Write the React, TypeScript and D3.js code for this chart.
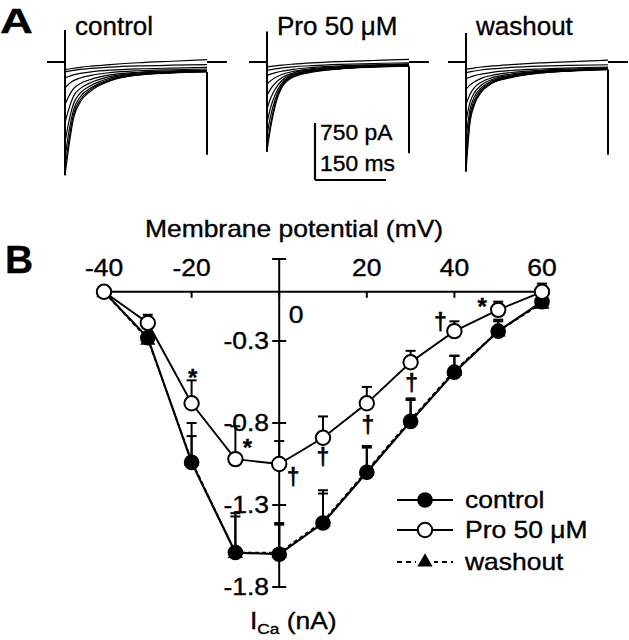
import React from "react";
import * as d3 from "d3";

// ---- panel A: current sweeps (pA), sampled at sweepTimes (ms) ----
const sweepTimes = [0, 8, 18, 32, 55, 95, 155, 225, 300];

const controlSweeps = [
  [-1490, -1120, -740, -530, -380, -250, -172, -145, -130],
  [-1400, -1040, -690, -500, -360, -240, -168, -142, -128],
  [-1260, -930, -630, -460, -340, -228, -162, -138, -124],
  [-1060, -790, -550, -410, -310, -212, -155, -133, -120],
  [-800, -620, -450, -350, -270, -192, -145, -126, -114],
  [-560, -450, -350, -285, -228, -170, -135, -118, -106],
  [-340, -290, -245, -210, -175, -140, -115, -102, -92],
  [-210, -190, -170, -150, -130, -108, -90, -80, -72],
  [-130, -120, -110, -98, -85, -68, -52, -42, -35],
  [-100, -92, -82, -70, -55, -35, -10, 10, 30],
];

const proSweeps = [
  [-1180, -850, -560, -330, -200, -135, -90, -68, -55],
  [-1100, -800, -530, -315, -190, -128, -86, -64, -52],
  [-960, -700, -480, -295, -182, -122, -82, -61, -48],
  [-800, -590, -420, -270, -172, -116, -78, -58, -45],
  [-620, -470, -350, -240, -160, -108, -74, -54, -41],
  [-440, -350, -275, -205, -144, -100, -68, -50, -37],
  [-290, -245, -205, -165, -124, -88, -62, -45, -32],
  [-180, -160, -140, -120, -96, -72, -50, -36, -24],
  [-110, -100, -90, -78, -64, -48, -32, -20, -10],
  [-65, -58, -50, -40, -28, -12, 5, 20, 35],
];

const washoutSweeps = [
  [-1440, -820, -560, -400, -280, -205, -148, -118, -100],
  [-1350, -780, -535, -385, -272, -200, -145, -116, -97],
  [-1200, -720, -500, -365, -262, -193, -141, -113, -94],
  [-1000, -640, -455, -340, -248, -184, -136, -110, -91],
  [-780, -540, -400, -305, -230, -173, -130, -106, -88],
  [-560, -430, -335, -265, -206, -158, -122, -100, -84],
  [-360, -305, -260, -215, -175, -138, -110, -92, -78],
  [-220, -200, -180, -160, -136, -112, -92, -78, -66],
  [-140, -130, -118, -105, -90, -72, -55, -44, -36],
  [-95, -88, -78, -66, -52, -34, -12, 5, 25],
];

const onsetSpikes = [420, 400, 380]; // pA, upward capacitive artefact
const tailSpikes = [-1220, -1200, -1220]; // pA, tail at pulse end
const traceTitles = ["control", "Pro 50 \u03bcM", "washout"];
const barCurrent = 750; // pA
const barTime = 150; // ms

// ---- panel B: I-V relation ----
const voltages = [-40, -30, -20, -10, 0, 10, 20, 30, 40, 50, 60];
const controlI = [0, -0.28, -1.04, -1.59, -1.6, -1.41, -1.1, -0.79, -0.49, -0.24, -0.06];
const controlErr = [0, 0, 0.24, 0.24, 0.19, 0.2, 0.16, 0.14, 0.1, 0.07, 0];
const proI = [0, -0.19, -0.68, -1.02, -1.05, -0.89, -0.68, -0.43, -0.24, -0.11, 0];
const proErr = [0, 0.05, 0.14, 0.2, 0.14, 0.13, 0.1, 0.07, 0.06, 0.05, 0.05];
const washoutI = [0, -0.29, -1.03, -1.59, -1.59, -1.4, -1.09, -0.78, -0.48, -0.24, -0.07];
const washoutErr = [0, 0, 0.15, 0.22, 0.17, 0.17, 0.14, 0.12, 0.09, 0.06, 0];
const xTicks = [-40, -20, 0, 20, 40, 60];
const yTicks = [0.2, -0.3, -0.8, -1.3, -1.8];
const markVoltages = [-20, -10, 0, 10, 20, 30, 40, 50];
const markSymbols = ["*", "*", "\u2020", "\u2020", "\u2020", "\u2020", "\u2020", "*"];
const seriesNames = ["control", "Pro 50 \u03bcM", "washout"];

const FONT = "'Liberation Sans', Arial, Helvetica, sans-serif";

const Txt = ({ x, y, size, sx = 1, anchor = "start", weight = "normal", children }: any) => (
  <text
    transform={`translate(${x},${y}) scale(${sx},1)`}
    fontSize={size}
    textAnchor={anchor}
    fontWeight={weight}
    fontFamily={FONT}
    fill="#000"
    stroke="#000"
    strokeWidth={0.35}
  >
    {children}
  </text>
);

const Traces = () => {
  const tx = d3.scaleLinear().domain([0, 300]).range([0, 142]);
  const iy = d3.scaleLinear().domain([0, -750]).range([62, 119]);
  const groupX = [65, 267, 466];
  const line = d3
    .line<number>()
    .x((_, i) => tx(sweepTimes[i]))
    .y((d) => iy(d))
    .curve(d3.curveMonotoneX);

  const groups = [controlSweeps, proSweeps, washoutSweeps].map((sweeps, g) => {
    const low = d3.min(sweeps, (s) => s[0]) as number;
    const endHigh = d3.min(sweeps, (s) => s[s.length - 1]) as number;
    return (
      <g key={g} transform={`translate(${groupX[g]},0)`}>
        <line x1={tx(-38)} x2={tx(0)} y1={iy(0)} y2={iy(0)} stroke="#000" strokeWidth={2} />
        <line x1={tx(300)} x2={tx(342)} y1={iy(0)} y2={iy(0)} stroke="#000" strokeWidth={2} />
        <line x1={0} x2={0} y1={iy(onsetSpikes[g])} y2={iy(low)} stroke="#000" strokeWidth={2} />
        <line x1={tx(300)} x2={tx(300)} y1={iy(endHigh)} y2={iy(tailSpikes[g])} stroke="#000" strokeWidth={2} />
        {sweeps.map((s, i) => (
          <path key={i} d={line(s) || ""} fill="none" stroke="#000" strokeWidth={1.2} />
        ))}
        <Txt x={10} y={35} size={26}>
          {traceTitles[g]}
        </Txt>
      </g>
    );
  });

  // scale bar
  const bx = 315;
  const by = 180;
  return (
    <g>
      {groups}
      <line x1={bx} x2={bx} y1={by} y2={by - (iy(-barCurrent) - iy(0))} stroke="#000" strokeWidth={2.2} />
      <line x1={bx} x2={bx + tx(barTime)} y1={by} y2={by} stroke="#000" strokeWidth={2.2} />
      <Txt x={320} y={140} size={22} sx={1.04}>
        {barCurrent} pA
      </Txt>
      <Txt x={320} y={171} size={22} sx={1.04}>
        {barTime} ms
      </Txt>
    </g>
  );
};

const IVPlot = () => {
  const xv = d3.scaleLinear().domain([-40, 60]).range([104, 542]);
  const yi = d3.scaleLinear().domain([0.2, -1.8]).range([259, 587]);
  const lineFor = (vals: number[]) =>
    d3
      .line<number>()
      .x((_, i) => xv(voltages[i]))
      .y((d) => yi(d))(vals) || "";
  const tri = d3.symbol().type(d3.symbolTriangle).size(100)() || "";
  const S = 1.15;
  const fs = 23;

  const errBars = (vals: number[], errs: number[], key: string) =>
    vals.map((v, i) =>
      errs[i] > 0 ? (
        <g key={key + i} stroke="#000" strokeWidth={2}>
          <line x1={xv(voltages[i])} x2={xv(voltages[i])} y1={yi(v)} y2={yi(v + errs[i])} />
          <line x1={xv(voltages[i]) - 5} x2={xv(voltages[i]) + 5} y1={yi(v + errs[i])} y2={yi(v + errs[i])} />
        </g>
      ) : null
    );

  // where each significance mark sits relative to its Pro point
  const markOffsets = [[1, -31], [12, -17], [14, 13], [0, 19], [1, 22], [1, 21], [-14, -9], [-16, -9]];

  const legendRows = [500, 530, 562];

  return (
    <g>
      <Txt x={5} y={273} size={39} weight="bold">
        B
      </Txt>
      <Txt x={294} y={237} size={fs} sx={S} anchor="middle">
        Membrane potential (mV)
      </Txt>

      {/* x axis */}
      <line x1={xv(-40)} x2={xv(60)} y1={yi(0)} y2={yi(0)} stroke="#000" strokeWidth={2} />
      {xTicks.map((t) => (
        <g key={t}>
          <line x1={xv(t)} x2={xv(t)} y1={yi(0)} y2={yi(0) + 6} stroke="#000" strokeWidth={2} />
          {t !== 0 ? (
            <Txt x={xv(t)} y={276} size={fs} sx={S} anchor="middle">
              {t}
            </Txt>
          ) : (
            <Txt x={xv(t) + 17} y={323} size={fs} sx={S} anchor="middle">
              {t}
            </Txt>
          )}
        </g>
      ))}

      {/* y axis */}
      <line x1={xv(0)} x2={xv(0)} y1={yi(0.2)} y2={yi(-1.8)} stroke="#000" strokeWidth={2} />
      {yTicks.map((t) => (
        <g key={t}>
          <line x1={xv(0) - 7} x2={xv(0) + 7} y1={yi(t)} y2={yi(t)} stroke="#000" strokeWidth={2} />
          {t < 0 && (
            <Txt x={269} y={yi(t) + 8} size={fs} sx={S} anchor="end">
              {t}
            </Txt>
          )}
        </g>
      ))}
      <text
        transform={`translate(250,629) scale(${S},1)`}
        fontSize={fs}
        fontFamily={FONT}
        fill="#000"
        stroke="#000"
        strokeWidth={0.35}
      >
        <tspan>I</tspan>
        <tspan dy={5} fontSize={15}>
          Ca
        </tspan>
        <tspan dy={-5}> (nA)</tspan>
      </text>

      {/* series lines */}
      <path d={lineFor(washoutI)} fill="none" stroke="#000" strokeWidth={1.6} strokeDasharray="4 3" />
      <path d={lineFor(controlI)} fill="none" stroke="#000" strokeWidth={2.2} />
      <path d={lineFor(proI)} fill="none" stroke="#000" strokeWidth={1.9} />

      {errBars(washoutI, washoutErr, "w")}
      {errBars(controlI, controlErr, "c")}
      {errBars(proI, proErr, "p")}

      {washoutI.map((v, i) => (
        <path key={"wt" + i} d={tri} transform={`translate(${xv(voltages[i])},${yi(v) + 1})`} fill="#000" />
      ))}
      {controlI.map((v, i) => (
        <circle key={"cc" + i} cx={xv(voltages[i])} cy={yi(v)} r={7.8} fill="#000" />
      ))}
      {proI.map((v, i) => (
        <circle key={"pc" + i} cx={xv(voltages[i])} cy={yi(v)} r={7.2} fill="#fff" stroke="#000" strokeWidth={2} />
      ))}

      {markVoltages.map((mv, i) => {
        const k = voltages.indexOf(mv);
        const cx = xv(mv) + markOffsets[i][0];
        const cy = yi(proI[k]) + markOffsets[i][1];
        const sym = markSymbols[i];
        return (
          <Txt key={"m" + i} x={cx} y={cy + (sym === "*" ? 14 : 8)} size={sym === "*" ? 24 : 23} anchor="middle" weight="bold">
            {sym}
          </Txt>
        );
      })}

      {/* legend */}
      {seriesNames.map((name, i) => (
        <g key={name}>
          <line
            x1={397}
            x2={453}
            y1={legendRows[i]}
            y2={legendRows[i]}
            stroke="#000"
            strokeWidth={2}
            strokeDasharray={i === 2 ? "5 4" : undefined}
          />
          {i === 0 && <circle cx={425} cy={legendRows[i]} r={7.8} fill="#000" />}
          {i === 1 && <circle cx={425} cy={legendRows[i]} r={7.2} fill="#fff" stroke="#000" strokeWidth={2} />}
          {i === 2 && (
            <g transform={`translate(425,${legendRows[i]})`}>
              <rect x={-9} y={-8} width={18} height={16} fill="#fff" />
              <path d={tri} fill="#000" />
            </g>
          )}
          <Txt x={465} y={legendRows[i] + 8} size={fs} sx={S}>
            {name}
          </Txt>
        </g>
      ))}
    </g>
  );
};

export default function App() {
  return (
    <svg
      width={629}
      height={640}
      viewBox="0 0 629 640"
      style={{ position: "absolute", left: 0, top: 0, background: "#fff" }}
    >
      <rect width={629} height={640} fill="#fff" />
      <Txt x={0} y={33} size={35} sx={1.3} weight="bold">
        A
      </Txt>
      <Traces />
      <IVPlot />
    </svg>
  );
}
